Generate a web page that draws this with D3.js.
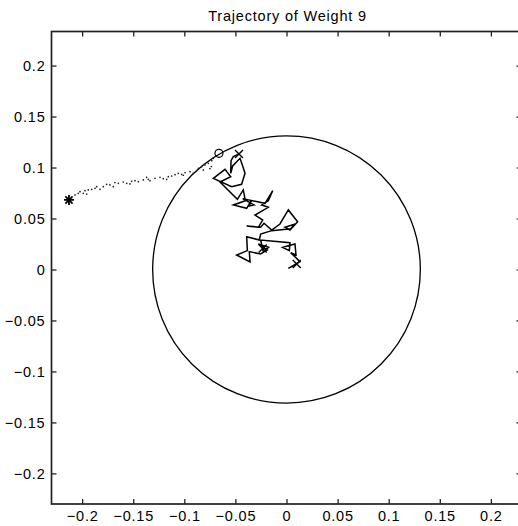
<!DOCTYPE html>
<html>
<head>
<meta charset="utf-8">
<script src="https://cdn.jsdelivr.net/npm/d3@7/dist/d3.min.js"></script>
<style>
  html, body { margin: 0; padding: 0; background: #fff; }
  svg { display: block; }
  text { font-family: "Liberation Sans", Arial, Helvetica, sans-serif; fill: #000; }
</style>
</head>
<body>
<svg id="chart" width="518" height="526"></svg>
<script>
// ---------- data ----------
const title = "Trajectory of Weight 9";
const xTickValues = [-0.2, -0.15, -0.1, -0.05, 0, 0.05, 0.1, 0.15, 0.2];
const xTickLabels = ["\u22120.2", "\u22120.15", "\u22120.1", "\u22120.05", "0", "0.05", "0.1", "0.15", "0.2"];
const yTickValues = [-0.2, -0.15, -0.1, -0.05, 0, 0.05, 0.1, 0.15, 0.2];
const yTickLabels = ["\u22120.2", "\u22120.15", "\u22120.1", "\u22120.05", "0", "0.05", "0.1", "0.15", "0.2"];
const xDomain = [-0.23, 0.23];
const yDomain = [-0.23, 0.2334];
const circleRadius = 0.131;

// solid trajectory inside the circle
const trajectory = [
  [-0.0465, 0.1133], [-0.0520, 0.1107], [-0.0543, 0.1067], [-0.0546, 0.0943],
  [-0.0527, 0.1015], [-0.0455, 0.1090], [-0.0429, 0.1015], [-0.0406, 0.0943],
  [-0.0439, 0.0835], [-0.0537, 0.0812], [-0.0716, 0.0894], [-0.0602, 0.0982],
  [-0.0546, 0.0910], [-0.0651, 0.0858], [-0.0481, 0.0688], [-0.0423, 0.0780],
  [-0.0403, 0.0675], [-0.0520, 0.0633], [-0.0390, 0.0600], [-0.0341, 0.0682],
  [-0.0364, 0.0623], [-0.0318, 0.0633], [-0.0429, 0.0695], [-0.0210, 0.0649],
  [-0.0135, 0.0773], [-0.0178, 0.0675], [-0.0243, 0.0633], [-0.0178, 0.0610],
  [-0.0308, 0.0534], [-0.0233, 0.0485], [-0.0276, 0.0414], [-0.0390, 0.0427],
  [-0.0253, 0.0414], [-0.0220, 0.0453], [-0.0145, 0.0387], [-0.0064, 0.0446],
  [0.0018, 0.0584], [0.0109, 0.0469], [0.0034, 0.0387], [-0.0015, 0.0414],
  [0.0083, 0.0446], [0.0041, 0.0400], [-0.0145, 0.0381], [-0.0253, 0.0348],
  [-0.0266, 0.0289], [-0.0390, 0.0322], [-0.0383, 0.0185], [-0.0488, 0.0142],
  [-0.0357, 0.0074], [-0.0364, 0.0175], [-0.0253, 0.0152], [-0.0188, 0.0191],
  [-0.0276, 0.0250], [-0.0175, 0.0217], [-0.0227, 0.0172], [-0.0253, 0.0289],
  [0.0034, 0.0263], [0.0028, 0.0185], [-0.0038, 0.0217], [0.0008, 0.0230],
  [0.0083, 0.0250], [0.0093, 0.0142], [0.0041, 0.0165], [0.0132, 0.0077],
  [0.0018, 0.0011], [0.0100, 0.0054]
];

// dotted excursion outside the circle
const dots = [
  [-0.2070, 0.0731], [-0.2038, 0.0747], [-0.2021, 0.0763], [-0.1989, 0.0747],
  [-0.1972, 0.0773], [-0.1956, 0.0740], [-0.1940, 0.0780], [-0.1907, 0.0786],
  [-0.1874, 0.0796], [-0.1858, 0.0812], [-0.1825, 0.0786], [-0.1793, 0.0812],
  [-0.1760, 0.0835], [-0.1728, 0.0829], [-0.1695, 0.0812], [-0.1679, 0.0852],
  [-0.1646, 0.0845], [-0.1597, 0.0858], [-0.1564, 0.0845], [-0.1532, 0.0839],
  [-0.1515, 0.0865], [-0.1483, 0.0871], [-0.1450, 0.0861], [-0.1401, 0.0878],
  [-0.1369, 0.0904], [-0.1352, 0.0884], [-0.1336, 0.0871], [-0.1287, 0.0894],
  [-0.1238, 0.0904], [-0.1206, 0.0891], [-0.1173, 0.0884], [-0.1157, 0.0910],
  [-0.1124, 0.0917], [-0.1091, 0.0930], [-0.1059, 0.0943], [-0.1026, 0.0933],
  [-0.1010, 0.0924], [-0.0993, 0.0950], [-0.0945, 0.0959], [-0.0912, 0.0943],
  [-0.0879, 0.0969], [-0.0863, 0.0992], [-0.0830, 0.1008], [-0.0814, 0.0976],
  [-0.0798, 0.1025], [-0.0765, 0.1041], [-0.0732, 0.1067], [-0.0716, 0.1090],
  [-0.0693, 0.1113], [-0.0750, 0.0990], [-0.0735, 0.1010]
];

const circleMarkers = [[-0.0661, 0.1139]];
const crossMarkers = [[-0.0465, 0.1133], [0.0100, 0.0054], [-0.0233, 0.0205]];
const starMarkers = [[-0.2129, 0.0682]];

// ---------- layout ----------
const svg = d3.select("#chart");
const W = 518, H = 526;
const mLeft = 51.5, mRight = 521.5, mTop = 31.5, mBottom = 504;
const fontSize = 14.5, letterSp = 0.8;

const x = d3.scaleLinear().domain(xDomain).range([mLeft, mRight]);
const y = d3.scaleLinear().domain(yDomain).range([mBottom, mTop]);

svg.append("rect").attr("width", W).attr("height", H).attr("fill", "#fff");

// title
svg.append("text")
  .attr("x", 287.5).attr("y", 20.5)
  .attr("text-anchor", "middle")
  .attr("font-size", fontSize)
  .attr("letter-spacing", letterSp)
  .text(title);

// axes (inward ticks)
const tickLen = 5;
const xAxisB = d3.axisBottom(x).tickValues(xTickValues)
  .tickFormat((d, i) => xTickLabels[i]).tickSizeInner(-tickLen).tickSizeOuter(0).tickPadding(7);
const xAxisT = d3.axisTop(x).tickValues(xTickValues)
  .tickFormat("").tickSizeInner(-tickLen).tickSizeOuter(0);
const yAxisL = d3.axisLeft(y).tickValues(yTickValues)
  .tickFormat((d, i) => yTickLabels[i]).tickSizeInner(-tickLen).tickSizeOuter(0).tickPadding(6);
const yAxisR = d3.axisRight(y).tickValues(yTickValues)
  .tickFormat("").tickSizeInner(-tickLen).tickSizeOuter(0);

function styleAxis(g) {
  g.select(".domain").remove();
  g.selectAll(".tick line").attr("stroke", "#111").attr("stroke-width", 1.2);
  g.selectAll(".tick text").attr("font-size", fontSize).attr("fill", "#000")
    .attr("letter-spacing", letterSp)
    .attr("font-family", "Liberation Sans, Arial, sans-serif");
}

svg.append("g").attr("transform", `translate(0,${mBottom})`).call(xAxisB).call(styleAxis);
svg.append("g").attr("transform", `translate(0,${mTop})`).call(xAxisT).call(styleAxis);
svg.append("g").attr("transform", `translate(${mLeft},0)`).call(yAxisL).call(styleAxis);
svg.append("g").attr("transform", `translate(${mRight},0)`).call(yAxisR).call(styleAxis);

// plot box
svg.append("rect")
  .attr("x", mLeft).attr("y", mTop)
  .attr("width", mRight - mLeft).attr("height", mBottom - mTop)
  .attr("fill", "none").attr("stroke", "#222").attr("stroke-width", 1.7);

const plot = svg.append("g");

// circle
plot.append("ellipse")
  .attr("cx", x(0)).attr("cy", y(0))
  .attr("rx", x(circleRadius) - x(0))
  .attr("ry", y(0) - y(circleRadius))
  .attr("fill", "none").attr("stroke", "#000").attr("stroke-width", 1.3);

// dotted excursion
plot.selectAll("circle.dot").data(dots).join("circle")
  .attr("class", "dot")
  .attr("cx", d => x(d[0])).attr("cy", d => y(d[1]))
  .attr("r", 0.85).attr("fill", "#222");

// solid trajectory
const line = d3.line().x(d => x(d[0])).y(d => y(d[1]));
plot.append("path").datum(trajectory)
  .attr("d", line)
  .attr("fill", "none").attr("stroke", "#000").attr("stroke-width", 1.5)
  .attr("stroke-linejoin", "miter");

// markers
plot.selectAll("circle.om").data(circleMarkers).join("circle")
  .attr("class", "om")
  .attr("cx", d => x(d[0])).attr("cy", d => y(d[1]))
  .attr("r", 4).attr("fill", "none").attr("stroke", "#000").attr("stroke-width", 1.2);

const xs = 4;
plot.selectAll("path.xm").data(crossMarkers).join("path")
  .attr("class", "xm")
  .attr("d", d => {
    const cx = x(d[0]), cy = y(d[1]);
    return `M${cx - xs},${cy - xs}L${cx + xs},${cy + xs}M${cx - xs},${cy + xs}L${cx + xs},${cy - xs}`;
  })
  .attr("stroke", "#000").attr("stroke-width", 1.4);

const ss = 5;
plot.selectAll("path.sm").data(starMarkers).join("path")
  .attr("class", "sm")
  .attr("d", d => {
    const cx = x(d[0]), cy = y(d[1]);
    const a = ss * 0.72;
    return `M${cx - ss},${cy}L${cx + ss},${cy}M${cx},${cy - ss}L${cx},${cy + ss}` +
           `M${cx - a},${cy - a}L${cx + a},${cy + a}M${cx - a},${cy + a}L${cx + a},${cy - a}`;
  })
  .attr("stroke", "#000").attr("stroke-width", 1.8);
</script>
</body>
</html>
